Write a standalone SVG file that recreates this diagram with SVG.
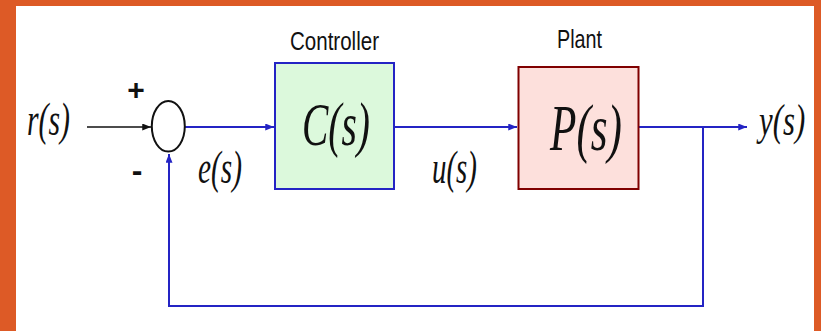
<svg xmlns="http://www.w3.org/2000/svg" width="821" height="331" viewBox="0 0 821 331">
<style>
.math{font-family:"Liberation Serif","DejaVu Serif","Times New Roman",serif;font-style:italic;fill:#111}
.lbl{font-family:"Liberation Sans",Arial,sans-serif;fill:#111}
.blue{fill:none;stroke:#2424c4;stroke-width:2}
.blk{fill:none;stroke:#111;stroke-width:1.6}
</style>
<defs>
<marker id="ab" viewBox="0 0 10 8" refX="10" refY="4" markerWidth="9" markerHeight="7" markerUnits="userSpaceOnUse" orient="auto"><path d="M0,0 L10,4 L0,8 z" fill="#2424c4"/></marker>
<marker id="ak" viewBox="0 0 10 8" refX="10" refY="4" markerWidth="9" markerHeight="7" markerUnits="userSpaceOnUse" orient="auto"><path d="M0,0 L10,4 L0,8 z" fill="#111"/></marker>
</defs>
<rect x="0" y="0" width="821" height="331" fill="#ffffff"/>
<rect x="0" y="0" width="821" height="6" fill="#dd5a26"/>
<rect x="0" y="0" width="16" height="331" fill="#dd5a26"/>
<rect x="814" y="0" width="7" height="331" fill="#dd5a26"/>
<g id="connectors">
<path class="blk" d="M87,127 H151" marker-end="url(#ak)"/>
<path class="blue" d="M185,127 H274" marker-end="url(#ab)"/>
<path class="blue" d="M394,127 H517" marker-end="url(#ab)"/>
<path class="blue" d="M639,127 H747" marker-end="url(#ab)"/>
<path class="blue" d="M703,127 V306 H169 V154" marker-end="url(#ab)"/>
</g>
<g id="sum">
<ellipse cx="168.3" cy="126.3" rx="16.5" ry="25.3" fill="#fff" stroke="#111" stroke-width="2"/>
<text class="lbl" x="136" y="100" font-size="30" font-weight="bold" text-anchor="middle">+</text>
<text class="lbl" x="137" y="181" font-size="32" font-weight="bold" text-anchor="middle">-</text>
</g>
<g id="controller">
<rect x="275" y="63" width="119" height="126" fill="#dcf9dc" stroke="#2424c4" stroke-width="2"/>
<text class="lbl" x="290" y="50" font-size="26" textLength="89" lengthAdjust="spacingAndGlyphs">Controller</text>
<text class="math" x="302" y="145" font-size="62" textLength="68" lengthAdjust="spacingAndGlyphs">C(s)</text>
</g>
<g id="plant">
<rect x="518.5" y="67" width="120" height="122" fill="#fde0dc" stroke="#800000" stroke-width="2"/>
<text class="lbl" x="557" y="48" font-size="26" textLength="45" lengthAdjust="spacingAndGlyphs">Plant</text>
<text class="math" x="550" y="150" font-size="66" textLength="72" lengthAdjust="spacingAndGlyphs">P(s)</text>
</g>
<g id="labels">
<text class="math" x="27" y="135" font-size="46" textLength="43" lengthAdjust="spacingAndGlyphs">r(s)</text>
<text class="math" x="198" y="183" font-size="46" textLength="44" lengthAdjust="spacingAndGlyphs">e(s)</text>
<text class="math" x="432" y="183" font-size="46" textLength="45" lengthAdjust="spacingAndGlyphs">u(s)</text>
<text class="math" transform="translate(759,135) scale(0.7,1)" x="0" y="0" font-size="44">y(s)</text>
</g>
</svg>
